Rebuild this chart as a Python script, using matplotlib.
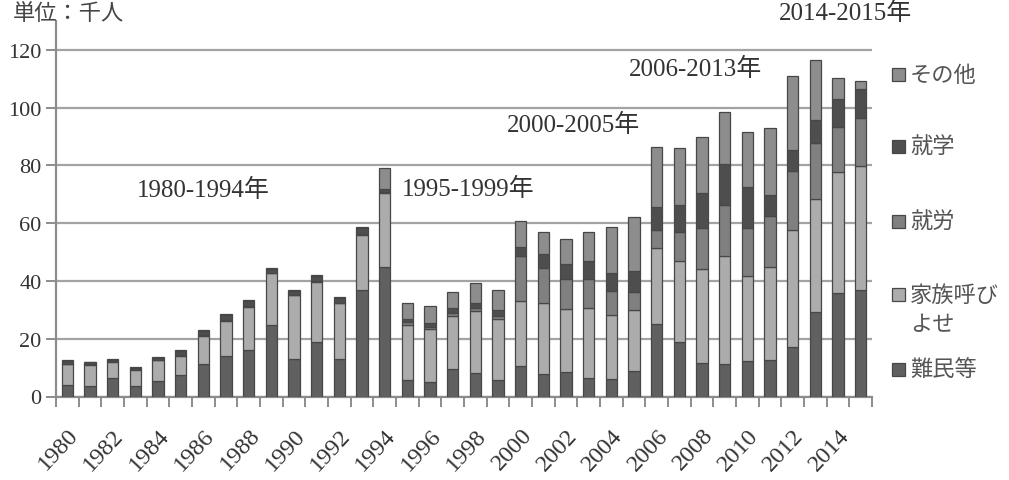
import matplotlib.pyplot as plt
import numpy as np

years = list(range(1980, 2016))

# 単位：千人
refugees = [4.0, 3.7, 6.4, 3.5, 5.4, 7.4, 11.4, 14.1, 16.2, 24.9, 13.0, 18.8, 13.0, 36.7, 45.0,
            5.6, 5.0, 9.6, 8.3, 5.6,
            10.4, 7.9, 8.6, 6.4, 6.0, 8.7,
            25.1, 18.7, 11.5, 11.2, 12.4, 12.7, 17.3, 29.3,
            35.8, 37.0]
family = [7.2, 7.3, 5.6, 5.8, 7.1, 6.5, 9.5, 12.1, 14.7, 17.7, 22.0, 20.9, 19.2, 19.3, 25.5,
          19.1, 18.2, 18.4, 21.4, 21.3,
          22.6, 24.3, 21.8, 24.2, 22.3, 21.4,
          26.3, 28.3, 32.6, 37.3, 29.4, 32.0, 40.4, 39.1,
          41.8, 42.7]
work = [0.2, 0.2, 0.2, 0.2, 0.2, 0.3, 0.3, 0.3, 0.3, 0.3, 0.3, 0.3, 0.3, 0.3, 0.3,
        1.0, 1.0, 1.0, 1.0, 1.0,
        15.7, 12.4, 10.2, 10.2, 8.1, 6.1,
        6.3, 9.8, 14.4, 17.9, 16.4, 17.7, 20.4, 19.2,
        15.6, 16.7]
study = [0.8, 0.6, 0.6, 0.5, 0.8, 1.4, 1.4, 1.6, 1.7, 1.2, 1.3, 1.6, 1.7, 1.9, 1.0,
         1.2, 1.3, 1.8, 1.7, 2.0,
         3.2, 4.6, 5.1, 6.0, 6.2, 7.4,
         7.8, 9.5, 11.8, 14.0, 14.5, 7.3, 7.2, 8.1,
         9.8, 10.1]
other = [0.3, 0.2, 0.2, 0.2, 0.2, 0.4, 0.4, 0.4, 0.4, 0.4, 0.4, 0.4, 0.4, 0.4, 7.2,
         5.3, 5.9, 5.4, 6.8, 7.1,
         8.8, 7.6, 8.8, 10.0, 16.0, 18.7,
         20.9, 19.8, 19.7, 18.2, 18.8, 23.4, 25.7, 20.7,
         7.4, 2.6]

series = [("難民等", refugees, "#606060"),
          ("家族呼び\nよせ", family, "#acacac"),
          ("就労", work, "#808080"),
          ("就学", study, "#4e4e4e"),
          ("その他", other, "#8d8d8d")]

serif_jp = ['Liberation Serif', 'Noto Sans CJK JP']

fig = plt.figure(figsize=(10.09, 4.81), dpi=100)
ax = fig.add_axes([56 / 1009, 1 - 397.5 / 481, (872 - 56) / 1009, 375.5 / 481])

x = np.arange(len(years))
bottom = np.zeros(len(years))
for name, vals, col in series:
    ax.bar(x, vals, 0.5, bottom=bottom, color=col, edgecolor='#474747', linewidth=0.9, zorder=3)
    bottom += np.array(vals)

ax.set_xlim(-0.5, len(years) - 0.5)
ax.set_ylim(0, 130)
ax.set_yticks(range(0, 121, 20))
ax.yaxis.grid(True, color='#a3a3a3', linewidth=1.6, zorder=0)
ax.set_axisbelow(True)
for s in ['top', 'right']:
    ax.spines[s].set_visible(False)
for s in ['left', 'bottom']:
    ax.spines[s].set_color('#8c8c8c')
    ax.spines[s].set_linewidth(1.6)
ax.tick_params(axis='y', length=7, width=1.4, color='#8c8c8c', labelsize=16, labelcolor='#333333')
for lab in ax.get_yticklabels():
    lab.set_family('Liberation Serif')

ax.set_xticks(np.arange(-0.5, len(years), 1.0), minor=True)
ax.set_xticks(x[::2])
ax.set_xticklabels([str(y) for y in years[::2]], rotation=47, ha='right', rotation_mode='anchor',
                   fontsize=17.5, color='#333333', family='Liberation Serif')
ax.tick_params(axis='x', which='major', length=0, pad=20)
ax.tick_params(axis='x', which='minor', length=7, width=1.4, color='#8c8c8c')

# period labels
fig.text(13 / 1009, 1 - 15 / 481, "単位：千人", fontsize=16, color='#444444',
         family=serif_jp, va='center', ha='left')
periods = [("1980-1994年", 203, 190), ("1995-1999年", 468, 189), ("2000-2005年", 573, 125),
           ("2006-2013年", 696, 69), ("2014-2015年", 845, 13)]
for txt, px, py in periods:
    fig.text(px / 1009, 1 - py / 481, txt, fontsize=18, color='#333333',
             family=serif_jp, ha='center', va='center')

# legend
leg_y = {"その他": 75, "就学": 147, "就労": 222, "家族呼び\nよせ": 295, "難民等": 370}
for name, vals, col in series:
    py = leg_y[name]
    fig.patches.append(plt.Rectangle((892 / 1009, 1 - (py + 6.5) / 481), 13 / 1009, 13 / 481,
                                     transform=fig.transFigure, facecolor=col,
                                     edgecolor='#474747', linewidth=0.9))
    fig.text(910 / 1009, 1 - (py - 11) / 481, name, fontsize=16, color='#555555',
             family='Noto Sans CJK JP', ha='left', va='top', linespacing=1.35)

fig.savefig('out.png', dpi=100)
